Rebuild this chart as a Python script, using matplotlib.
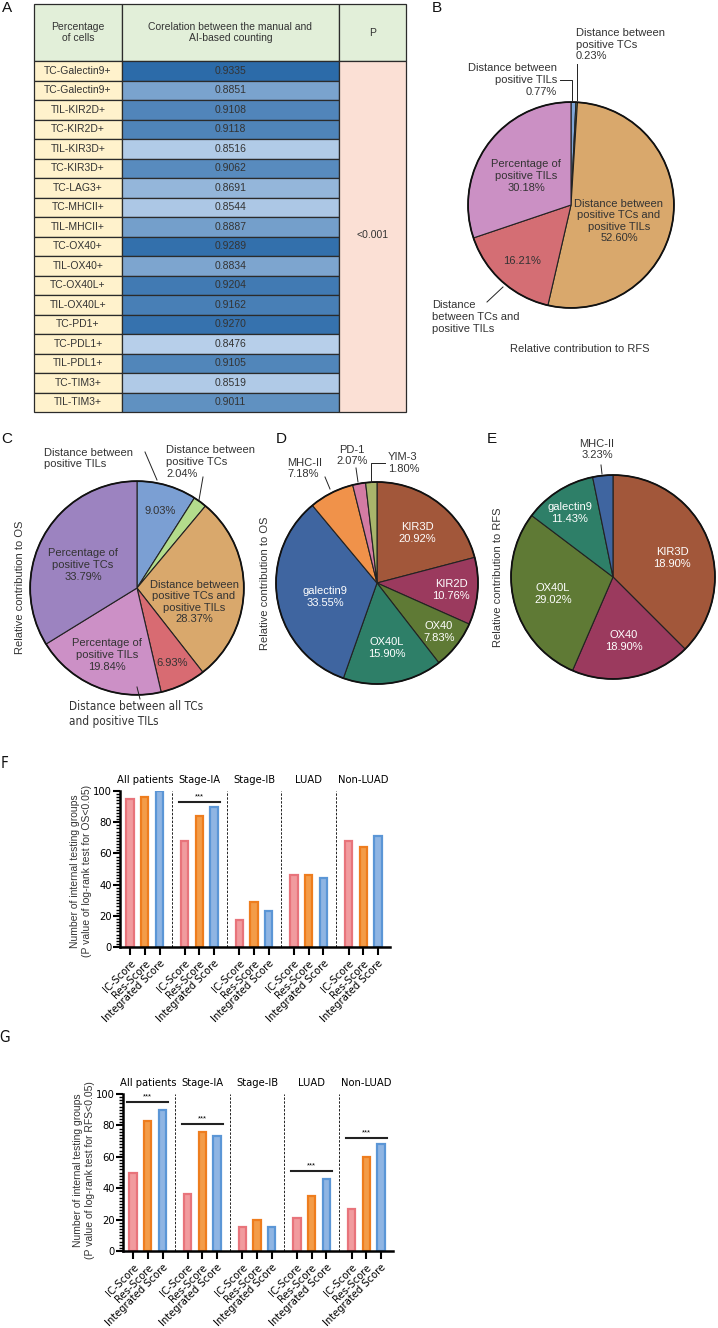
import matplotlib.pyplot as plt
import numpy as np
from matplotlib.patches import Rectangle, Circle
from matplotlib.colors import LinearSegmentedColormap
from matplotlib.ticker import MultipleLocator
from matplotlib.font_manager import FontProperties

W, H = 718, 1328
plt.rcParams['font.family'] = ['Liberation Sans', 'DejaVu Sans']
DARK = '#333333'


def narrow(size):
    return FontProperties(family='DejaVu Sans', stretch='condensed', size=size)


# ---------------- data ----------------
# A: correlation table
table_rows = ['TC-Galectin9+', 'TC-Galectin9+', 'TIL-KIR2D+', 'TC-KIR2D+', 'TIL-KIR3D+',
              'TC-KIR3D+', 'TC-LAG3+', 'TC-MHCII+', 'TIL-MHCII+', 'TC-OX40+', 'TIL-OX40+',
              'TC-OX40L+', 'TIL-OX40L+', 'TC-PD1+', 'TC-PDL1+', 'TIL-PDL1+', 'TC-TIM3+', 'TIL-TIM3+']
table_corr = [0.9335, 0.8851, 0.9108, 0.9118, 0.8516, 0.9062, 0.8691, 0.8544, 0.8887, 0.9289,
              0.8834, 0.9204, 0.9162, 0.9270, 0.8476, 0.9105, 0.8519, 0.9011]
table_head = ['Percentage\nof cells', 'Corelation between the manual and\nAI-based counting', 'P']
table_p = '<0.001'

# B: relative contribution to RFS (features)
b_values = [0.77, 0.23, 52.60, 16.21, 30.18]
b_colors = ['#7FA6D8', '#A6C97C', '#D9A86C', '#D46E74', '#CB90C4']

# C: relative contribution to OS (features)
c_values = [9.03, 2.04, 28.37, 6.93, 19.84, 33.79]
c_colors = ['#7B9FD3', '#B3DC8C', '#D9A86C', '#D86B72', '#CC90C6', '#9C83C0']

# D: relative contribution to OS (markers)
d_names = ['KIR3D', 'KIR2D', 'OX40', 'OX40L', 'galectin9', 'MHC-II', 'PD-1', 'YIM-3']
d_values = [20.92, 10.76, 7.83, 15.90, 33.55, 7.18, 2.07, 1.80]
d_colors = ['#A2573A', '#9B3A5E', '#5F7A35', '#2E7F68', '#3F65A0', '#F0924A', '#D47BA3', '#A9B56B']

# E: relative contribution to RFS (markers); slices as drawn, labels as printed
e_names = ['KIR3D', 'OX40', 'OX40L', 'galectin9', 'MHC-II']
e_values = [18.90, 18.90, 29.02, 11.43, 3.23]
e_drawn = [37.5, 19.0, 28.8, 11.5, 3.2]
e_colors = ['#A2573A', '#9B3A5E', '#5F7A35', '#2E7F68', '#3F65A0']

# F / G: bar charts
groups = ['All patients', 'Stage-IA', 'Stage-IB', 'LUAD', 'Non-LUAD']
scores = ['IC-Score', 'Res-Score', 'Integrated Score']
os_counts = [[95, 96, 100], [68, 84, 90], [17, 29, 23], [46, 46, 44], [68, 64, 71]]
os_sig = {1: 93}
rfs_counts = [[50, 83, 90], [36, 76, 73], [15, 20, 15], [21, 35, 46], [27, 60, 68]]
rfs_sig = {0: 95, 1: 81, 3: 51, 4: 72}
bar_fill = ['#F19B9E', '#F39C48', '#8FB5E3']
bar_edge = ['#E8747B', '#EE7D1E', '#5B96D6']

fig = plt.figure(figsize=(W / 100, H / 100), dpi=100)


def px_axes(l, t, r, b):
    return fig.add_axes([l / W, 1 - b / H, (r - l) / W, (b - t) / H])


def pie_panel(cx, cy, r, values, colors):
    ax = px_axes(cx - r, cy - r, cx + r, cy + r)
    ax.pie(values, colors=colors, startangle=90, counterclock=False, radius=1,
           wedgeprops=dict(edgecolor='#222222', linewidth=0.8))
    ax.add_patch(Circle((0, 0), 1, fill=False, edgecolor='#111111', lw=1.3))
    ax.set_xlim(-1.02, 1.02)
    ax.set_ylim(-1.02, 1.02)
    ax.axis('off')
    return ax


def bar_panel(ax, counts, sig):
    sp = 3.7
    for g, vals in enumerate(counts):
        xs = g * sp + np.arange(3)
        for i in range(3):
            ax.bar(xs[i], vals[i], width=0.5, color=bar_fill[i], edgecolor=bar_edge[i], linewidth=1.6)
        ax.text(g * sp + 1, 107, groups[g], ha='center', va='center', fontproperties=narrow(8))
        if g > 0:
            ax.axvline(g * sp - 0.85, color='#222222', lw=0.7, ls=(0, (2.5, 1.5)))
        if g in sig:
            y = sig[g]
            ax.plot([g * sp - 0.4, g * sp + 2.4], [y, y], color='#222222', lw=1.5, clip_on=False)
            ax.text(g * sp + 1, y + 1.2, '***', ha='center', va='bottom', fontsize=5.5)
    pos = [g * sp + i for g in range(len(counts)) for i in range(3)]
    ax.set_xticks(pos)
    ax.set_xticklabels(scores * len(counts), rotation=45, ha='right', rotation_mode='anchor',
                       fontproperties=narrow(8))
    ax.set_xlim(-0.68, 4 * sp + 2 + 0.81)
    ax.set_ylim(0, 100)
    ax.set_yticks(np.arange(0, 101, 20))
    ax.set_yticklabels([str(v) for v in range(0, 101, 20)], fontproperties=narrow(8))
    ax.yaxis.set_minor_locator(MultipleLocator(2))
    ax.spines['top'].set_visible(False)
    ax.spines['right'].set_visible(False)
    ax.spines['left'].set_linewidth(1.8)
    ax.spines['bottom'].set_linewidth(1.8)
    ax.tick_params(axis='y', which='major', length=5, width=1.5, pad=1)
    ax.tick_params(axis='y', which='minor', length=3, width=1.0)
    ax.tick_params(axis='x', length=6, width=1.5, pad=2)


# ---------------- pies ----------------
pie_panel(571, 205, 105, b_values, b_colors)
pie_panel(137, 588, 109, c_values, c_colors)
pie_panel(377, 583, 103, d_values, d_colors)
pie_panel(613, 577, 104, e_drawn, e_colors)

# ---------------- bars ----------------
axF = px_axes(120, 791, 390, 947)
bar_panel(axF, os_counts, os_sig)
axG = px_axes(123, 1094, 393, 1251)
bar_panel(axG, rfs_counts, rfs_sig)

# ---------------- overlay (pixel coordinates) ----------------
ov = fig.add_axes([0, 0, 1, 1])
ov.set_xlim(0, W)
ov.set_ylim(H, 0)
ov.axis('off')
ov.set_zorder(10)

# table A
cols = [34, 122, 339, 406]
top, head_b, row_h = 4, 61, 19.5
cmap = LinearSegmentedColormap.from_list('corr', ['#B7CFEA', '#2C6BA9'])
lo, hi = min(table_corr), max(table_corr)
ec = '#2B2B2B'
for j in range(3):
    ov.add_patch(Rectangle((cols[j], top), cols[j + 1] - cols[j], head_b - top,
                           facecolor='#E2EFD9', edgecolor=ec, lw=0.9))
    ov.text((cols[j] + cols[j + 1]) / 2, (top + head_b) / 2, table_head[j], ha='center', va='center',
            fontsize=7.5, color=DARK, linespacing=1.15)
for i, (name, v) in enumerate(zip(table_rows, table_corr)):
    y0 = head_b + i * row_h
    ov.add_patch(Rectangle((cols[0], y0), cols[1] - cols[0], row_h, facecolor='#FFF2CC', edgecolor=ec, lw=0.9))
    ov.add_patch(Rectangle((cols[1], y0), cols[2] - cols[1], row_h,
                           facecolor=cmap((v - lo) / (hi - lo)), edgecolor=ec, lw=0.9))
    ov.text((cols[0] + cols[1]) / 2, y0 + row_h / 2, name, ha='center', va='center', fontsize=7.5, color=DARK)
    ov.text((cols[1] + cols[2]) / 2, y0 + row_h / 2, f'{v:.4f}', ha='center', va='center', fontsize=7.5, color=DARK)
bot = head_b + len(table_rows) * row_h
ov.add_patch(Rectangle((cols[2], head_b), cols[3] - cols[2], bot - head_b, facecolor='#FBE0D5', edgecolor=ec, lw=0.9))
ov.text((cols[2] + cols[3]) / 2, 235, table_p, ha='center', va='center', fontsize=7.5, color=DARK)

# panel letters
for letter, x, y in [('A', 7, 8), ('B', 437, 8), ('C', 7, 439), ('D', 281, 439), ('E', 492, 439)]:
    ov.text(x, y, letter, ha='center', va='center', fontsize=11, color='#111111')
for letter, x, y in [('F', 5, 764), ('G', 5, 1037)]:
    ov.text(x, y, letter, ha='center', va='center', color='#111111', fontproperties=narrow(11))

fs = 8


def lead(xs, ys):
    ov.plot(xs, ys, color='#222222', lw=0.7)


# B labels
ov.text(576, 44.5, f'Distance between\npositive TCs\n{b_values[1]:.2f}%', ha='left', va='center', fontsize=fs, color=DARK)
lead([577, 577], [64, 100])
ov.text(557, 80, f'Distance between\npositive TILs\n{b_values[0]:.2f}%', ha='right', va='center',
        multialignment='right', fontsize=fs, color=DARK)
lead([560, 572, 572], [80, 80, 100])
ov.text(526, 176, f'Percentage of\npositive TILs\n{b_values[4]:.2f}%', ha='center', va='center', fontsize=fs, color=DARK)
ov.text(619, 221, f'Distance between\npositive TCs and\npositive TILs\n{b_values[2]:.2f}%', ha='center', va='center',
        fontsize=fs, color=DARK)
ov.text(522, 261, f'{b_values[3]:.2f}%', ha='center', va='center', fontsize=fs, color=DARK)
ov.text(432, 317, 'Distance\nbetween TCs and\npositive TILs', ha='left', va='center', fontsize=fs, color=DARK)
lead([487, 503], [302, 287])
ov.text(580, 349, 'Relative contribution to RFS', ha='center', va='center', fontsize=fs, color=DARK)

# C labels
ov.text(44, 458.5, 'Distance between\npositive TILs', ha='left', va='center', fontsize=fs, color=DARK)
lead([145, 157], [452, 480])
ov.text(166, 462, f'Distance between\npositive TCs\n{c_values[1]:.2f}%', ha='left', va='center', fontsize=fs, color=DARK)
lead([203, 199], [477, 500])
ov.text(160, 511, f'{c_values[0]:.2f}%', ha='center', va='center', fontsize=fs, color=DARK)
ov.text(83, 565, f'Percentage of\npositive TCs\n{c_values[5]:.2f}%', ha='center', va='center', fontsize=fs, color=DARK)
ov.text(194, 602, f'Distance between\npositive TCs and\npositive TILs\n{c_values[2]:.2f}%', ha='center', va='center',
        fontsize=fs, color=DARK)
ov.text(107, 655, f'Percentage of\npositive TILs\n{c_values[4]:.2f}%', ha='center', va='center', fontsize=fs, color=DARK)
ov.text(172, 663, f'{c_values[3]:.2f}%', ha='center', va='center', fontsize=fs, color=DARK)
ov.text(69, 713.5, 'Distance between all TCs\nand positive TILs', ha='left', va='center',
        color=DARK, fontproperties=narrow(8.5))
lead([137, 140], [687, 699])
ov.text(20, 587, 'Relative contribution to OS', ha='center', va='center', rotation=90, fontsize=fs, color=DARK)

# D labels
ov.text(287, 468.5, f'{d_names[5]}\n{d_values[5]:.2f}%', ha='left', va='center', fontsize=fs, color=DARK)
lead([325, 330], [477, 489])
ov.text(352, 455.5, f'{d_names[6]}\n{d_values[6]:.2f}%', ha='center', va='center', fontsize=fs, color=DARK)
lead([356, 358], [468, 482])
ov.text(388, 463, f'{d_names[7]}\n{d_values[7]:.2f}%', ha='left', va='center', fontsize=fs, color=DARK)
lead([385, 371, 371], [463, 463, 482])
d_inside = {0: (417, 533), 1: (451, 590), 2: (439, 632), 3: (387, 648), 4: (325, 597)}
for k, (x, y) in d_inside.items():
    ov.text(x, y, f'{d_names[k]}\n{d_values[k]:.2f}%', ha='center', va='center', fontsize=fs, color='white')
ov.text(265, 583, 'Relative contribution to OS', ha='center', va='center', rotation=90, fontsize=fs, color=DARK)

# E labels
ov.text(597, 449.5, f'{e_names[4]}\n{e_values[4]:.2f}%', ha='center', va='center', fontsize=fs, color=DARK)
lead([601, 602], [465, 474])
e_inside = {0: (672, 558), 1: (624, 641), 2: (553, 594), 3: (570, 513)}
for k, (x, y) in e_inside.items():
    ov.text(x, y, f'{e_names[k]}\n{e_values[k]:.2f}%', ha='center', va='center', fontsize=fs, color='white')
ov.text(498, 577, 'Relative contribution to RFS', ha='center', va='center', rotation=90, fontsize=fs, color=DARK)

# bar chart y labels
ov.text(81, 871, 'Number of internal testing groups\n(P value of log-rank test for OS<0.05)', ha='center',
        va='center', rotation=90, fontsize=7.5, color=DARK)
ov.text(84, 1170, 'Number of internal testing groups\n(P value of log-rank test for RFS<0.05)', ha='center',
        va='center', rotation=90, fontsize=7.5, color=DARK)

fig.savefig('out.png', dpi=100)
